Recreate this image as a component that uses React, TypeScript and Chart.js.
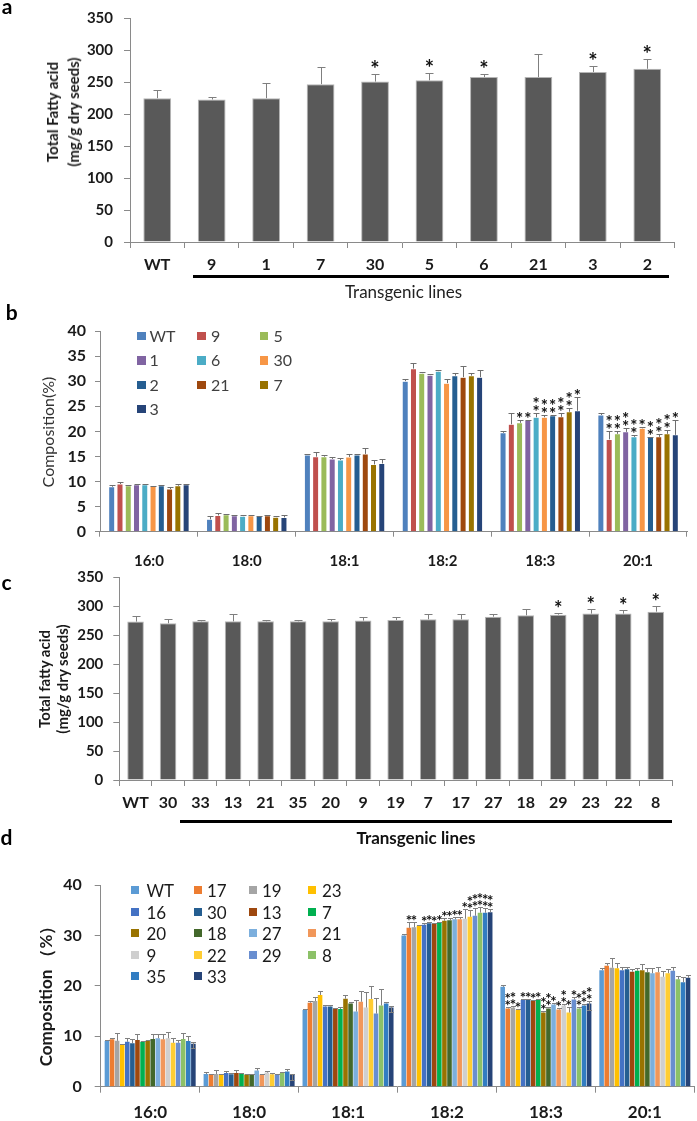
import React, { useEffect, useRef } from 'react';
import { Chart, registerables } from 'chart.js';

Chart.register(...registerables);

const FONT = 'Lato, "Open Sans", sans-serif';

// ---------- Panel a ----------
const linesA = ['WT', '9', '1', '7', '30', '5', '6', '21', '3', '2'];
const totalA = [225, 223, 225, 247, 251, 253, 258, 258, 266, 271];
const sdA = [13, 3.5, 23, 27, 11.5, 11, 4.5, 36, 9, 16];
const starsA = [0, 0, 0, 0, 1, 1, 1, 0, 1, 1];

// ---------- Panel b ----------
const acids = ['16:0', '18:0', '18:1', '18:2', '18:3', '20:1'];
const linesB = ['WT', '9', '5', '1', '6', '30', '2', '21', '7', '3'];
const colorsB = ['#4F81BD', '#C0504D', '#9BBB59', '#8064A2', '#4BACC6', '#F79646', '#255E91', '#9E480E', '#997300', '#264478'];
const b160 = [8.96, 9.5, 9.16, 9.36, 9.36, 9.1, 9.16, 8.5, 9.16, 9.36];
const b180 = [2.46, 3.25, 3.4, 3.2, 3.1, 3.2, 3.05, 3.2, 2.9, 2.85];
const b181 = [15.3, 14.95, 14.95, 14.5, 14.3, 14.9, 15.3, 15.5, 13.4, 13.6];
const b182 = [30.0, 32.5, 31.6, 31.2, 32.0, 29.6, 31.1, 30.8, 31.1, 30.8];
const b183 = [19.7, 21.4, 21.7, 22.2, 22.8, 22.8, 23.1, 22.9, 23.9, 24.1];
const b201 = [23.25, 18.4, 19.5, 19.9, 18.9, 20.6, 18.8, 18.9, 19.5, 19.3];
const sb160 = [0.25, 0.45, 0.15, 0.2, 0.2, 0.1, 0.1, 0.4, 0.4, 0.2];
const sb180 = [0.6, 0.45, 0.1, 0.15, 0.15, 0.1, 0.1, 0.15, 0.15, 0.55];
const sb181 = [0.2, 0.95, 0.35, 0.3, 0.3, 0.6, 0.2, 1.1, 0.9, 0.8];
const sb182 = [0.4, 1.1, 0.2, 0.2, 0.2, 0.8, 0.5, 2.2, 0.5, 1.4];
const sb183 = [0.4, 2.2, 0.6, 0.1, 0.8, 0.5, 0.1, 0.8, 0.7, 2.7];
const sb201 = [0.35, 1.7, 0.6, 0.7, 0.4, 0.3, 0.15, 0.5, 0.8, 3.0];
const starB183 = [0, 0, 1, 1, 2, 2, 2, 2, 2, 1];
const starB201 = [0, 2, 2, 2, 2, 1, 2, 2, 2, 1];

// ---------- Panel c ----------
const linesC = ['WT', '30', '33', '13', '21', '35', '20', '9', '19', '7', '17', '27', '18', '29', '23', '22', '8'];
const totalC = [273.5, 270.6, 274, 274, 274, 274, 274, 275.2, 276.3, 277.5, 277.5, 282, 284.4, 285.5, 287.3, 287.3, 290.7];
const sdC = [10.5, 8, 2, 12, 1.8, 3, 4.6, 5.8, 5.7, 9.5, 9.5, 5, 10.4, 2.4, 7.5, 5.7, 10.3];
const starsC = [0, 0, 0, 0, 0, 0, 0, 0, 0, 0, 0, 0, 0, 1, 1, 1, 1];

// ---------- Panel d ----------
const linesD = ['WT', '17', '19', '23', '16', '30', '13', '7', '20', '18', '27', '21', '9', '22', '29', '8', '35', '33'];
const colorsD = ['#5B9BD5', '#ED7D31', '#A5A5A5', '#FFC000', '#4472C4', '#255E91', '#9E480E', '#00B050', '#997300', '#43682B', '#7CAFDD', '#F1975A', '#CFCFCF', '#FFCD33', '#698ED0', '#8CC168', '#327DC2', '#264478'];
const d160 = [9.06, 9.4, 9.1, 8.3, 8.9, 8.6, 9.25, 8.9, 9.1, 9.45, 9.6, 9.4, 9.6, 8.7, 8.7, 9.45, 9.06, 8.5];
const d180 = [2.5, 2.5, 2.5, 2.5, 2.7, 2.45, 2.7, 2.6, 2.4, 2.45, 3.2, 2.4, 2.8, 2.45, 2.4, 2.7, 3.0, 2.5];
const d181 = [15.2, 16.65, 17.0, 18.2, 15.9, 15.9, 15.5, 15.4, 17.45, 16.5, 14.9, 16.85, 15.7, 17.4, 14.5, 16.1, 16.5, 15.7];
const d182 = [30.0, 31.5, 31.6, 31.9, 32.1, 32.4, 32.4, 32.5, 32.9, 33.0, 33.2, 33.2, 33.3, 33.7, 33.9, 34.5, 34.5, 34.6];
const d183 = [19.8, 15.5, 15.7, 15.2, 17.2, 17.2, 17.0, 17.2, 14.7, 15.5, 16.3, 15.3, 16.1, 14.7, 17.3, 15.5, 16.1, 16.5];
const d201 = [23.1, 24.0, 23.6, 23.5, 23.1, 23.3, 22.8, 23.0, 23.1, 22.7, 22.5, 22.7, 21.8, 22.5, 23.0, 21.3, 20.7, 21.6];
const sd160 = [0.2, 0.3, 1.5, 0.1, 0.7, 0.8, 1.25, 0.2, 0.2, 0.95, 0.8, 1.0, 1.2, 0.9, 0.55, 1.25, 0.95, 0.4];
const sd180 = [0.5, 0.1, 0.9, 0.1, 0.35, 0.35, 0.7, 0.1, 0.1, 0.15, 0.5, 0.1, 0.4, 0.35, 0.1, 0.2, 0.6, 0.1];
const sd181 = [0.3, 0.25, 0.7, 0.8, 0.3, 0.3, 0.2, 0.5, 0.75, 0.2, 2.3, 2.15, 3.0, 2.6, 3.1, 3.3, 0.2, 0.4];
const sd182 = [0.3, 1.2, 1.1, 0.2, 0.4, 0.3, 0.1, 0.2, 0.5, 0.4, 0.5, 0.5, 1.9, 1.3, 1.5, 1.1, 0.9, 0.6];
const sd183 = [0.3, 0.4, 0.3, 0.2, 0.2, 0.2, 0.2, 0.1, 0.4, 0.4, 0.2, 0.4, 0.3, 1.2, 0.4, 0.4, 0.3, 0.4];
const sd201 = [0.4, 0.6, 2.0, 1.0, 0.7, 0.5, 0.5, 0.5, 1.2, 0.9, 1.0, 1.1, 1.1, 0.8, 0.8, 0.7, 1.1, 0.5];
const lowD33 = [0.9, 1.1, 0.9, 0, 1.3, 0];
const starD182 = [0, 1, 1, 0, 1, 1, 1, 1, 1, 1, 1, 1, 1, 2, 2, 2, 2, 2];
const starD183 = [0, 2, 2, 1, 1, 1, 1, 1, 2, 2, 1, 1, 2, 1, 1, 2, 2, 2];

// ---------- error bar + asterisk plugin ----------
const errStars = {
  id: 'errStars',
  afterDatasetsDraw(chart: any, _a: any, o: any) {
    const ctx = chart.ctx;
    const ys = chart.scales.y;
    chart.data.datasets.forEach((ds: any, di: number) => {
      const meta = chart.getDatasetMeta(di);
      meta.data.forEach((bar: any, i: number) => {
        const v = ds.data[i];
        const e = (o.err[di] && o.err[di][i]) || 0;
        const lo = (o.low && o.low[di] && o.low[di][i]) || 0;
        const x = Math.round(bar.x) + 0.5;
        const yBar = ys.getPixelForValue(v);
        const yTop = Math.round(ys.getPixelForValue(v + e)) + 0.5;
        const c = o.cap / 2;
        ctx.save();
        ctx.strokeStyle = o.color;
        ctx.lineWidth = 1;
        ctx.beginPath();
        ctx.moveTo(x, yBar);
        ctx.lineTo(x, yTop);
        ctx.moveTo(x - c, yTop);
        ctx.lineTo(x + c, yTop);
        if (lo) {
          const yLo = Math.round(ys.getPixelForValue(v - lo)) + 0.5;
          ctx.moveTo(x, yBar);
          ctx.lineTo(x, yLo);
          ctx.moveTo(x - c, yLo);
          ctx.lineTo(x + c, yLo);
        }
        ctx.stroke();
        const n = (o.stars[di] && o.stars[di][i]) || 0;
        ctx.fillStyle = '#111';
        ctx.font = o.starFont;
        ctx.textAlign = 'center';
        ctx.textBaseline = 'alphabetic';
        for (let k = 0; k < n; k++) {
          ctx.fillText('*', bar.x, yTop + o.starOffset - k * o.starStep);
        }
        ctx.restore();
      });
    });
  },
};

function axes(opt: any) {
  const grid = (tl: number) => ({
    display: true,
    drawOnChartArea: false,
    drawTicks: true,
    tickLength: tl,
    color: '#8a8a8a',
  });
  return {
    x: {
      grid: grid(opt.xTick),
      border: { display: true, color: '#8a8a8a', width: 1 },
      ticks: {
        autoSkip: false,
        maxRotation: 0,
        padding: opt.xPad,
        color: '#1a1a1a',
        font: { family: FONT, size: opt.xSize, weight: 'bold' },
      },
      afterFit: (s: any) => {
        s.height = opt.H;
        s.paddingLeft = 0;
        s.paddingRight = 0;
      },
    },
    y: {
      min: 0,
      max: opt.max,
      grid: grid(opt.yTick),
      border: { display: true, color: '#8a8a8a', width: 1 },
      ticks: {
        stepSize: opt.step,
        padding: opt.yPad,
        color: '#1a1a1a',
        font: { family: FONT, size: opt.ySize, weight: 'bold' },
      },
      afterFit: (s: any) => {
        s.width = opt.W;
        s.paddingTop = 0;
        s.paddingBottom = 0;
      },
    },
  };
}

function ChartCanvas({ top, height, build }: { top: number; height: number; build: () => any }) {
  const ref = useRef<HTMLCanvasElement | null>(null);
  useEffect(() => {
    if (!ref.current) return;
    const chart = new Chart(ref.current, build());
    let alive = true;
    if ((document as any).fonts && (document as any).fonts.ready) {
      (document as any).fonts.ready.then(() => {
        if (alive) chart.update();
      });
    }
    return () => {
      alive = false;
      chart.destroy();
    };
  }, []);
  return (
    <canvas
      ref={ref}
      width={697}
      height={height}
      style={{ position: 'absolute', left: 0, top, width: 697, height }}
    />
  );
}

const baseOpts = (padding: any, scales: any, es: any) => ({
  responsive: false,
  animation: false,
  events: [],
  layout: { padding },
  plugins: { legend: { display: false }, tooltip: { enabled: false }, errStars: es },
  scales,
});

const buildA = () => ({
  type: 'bar',
  data: {
    labels: linesA,
    datasets: [{ data: totalA, backgroundColor: '#595959', borderColor: '#b5b5b5', borderWidth: 1, barPercentage: 0.51, categoryPercentage: 1 }],
  },
  options: baseOpts(
    { left: 0, top: 18.3, right: 22.5, bottom: 0 },
    axes({ W: 130, H: 43, max: 350, step: 50, xTick: 6, yTick: 6, xPad: 7.4, yPad: 11, xSize: 16, ySize: 15 }),
    { err: [sdA], stars: [starsA], cap: 8, color: '#7f7f7f', starFont: `bold 22px ${FONT}`, starOffset: 2, starStep: 10 }
  ),
  plugins: [errStars],
});

const buildB = () => ({
  type: 'bar',
  data: {
    labels: acids,
    datasets: linesB.map((name, li) => ({
      label: name,
      data: [b160[li], b180[li], b181[li], b182[li], b183[li], b201[li]],
      backgroundColor: colorsB[li],
      borderColor: 'rgba(255,255,255,0.35)',
      borderWidth: 0.5,
      barPercentage: 0.73,
      categoryPercentage: 0.845,
    })),
  },
  options: baseOpts(
    { left: 0, top: 41, right: 10, bottom: 0 },
    axes({ W: 100, H: 43.3, max: 40, step: 5, xTick: 5, yTick: 5, xPad: 15.3, yPad: 9, xSize: 15, ySize: 16 }),
    {
      err: linesB.map((_, li) => [sb160[li], sb180[li], sb181[li], sb182[li], sb183[li], sb201[li]]),
      stars: linesB.map((_, li) => [0, 0, 0, 0, starB183[li], starB201[li]]),
      cap: 6,
      color: '#6f6f6f',
      starFont: `bold 17px ${FONT}`,
      starOffset: 4.5,
      starStep: 8.3,
    }
  ),
  plugins: [errStars],
});

const buildC = () => ({
  type: 'bar',
  data: {
    labels: linesC,
    datasets: [{ data: totalC, backgroundColor: '#595959', borderColor: '#b5b5b5', borderWidth: 1, barPercentage: 0.51, categoryPercentage: 1 }],
  },
  options: baseOpts(
    { left: 0, top: 17.3, right: 25, bottom: 0 },
    axes({ W: 119.3, H: 42, max: 350, step: 50, xTick: 6, yTick: 6, xPad: 7.4, yPad: 10, xSize: 16, ySize: 15 }),
    { err: [sdC], stars: [starsC], cap: 8, color: '#7f7f7f', starFont: `bold 20px ${FONT}`, starOffset: 2.5, starStep: 10 }
  ),
  plugins: [errStars],
});

const buildD = () => ({
  type: 'bar',
  data: {
    labels: acids,
    datasets: linesD.map((name, li) => ({
      label: name,
      data: [d160[li], d180[li], d181[li], d182[li], d183[li], d201[li]],
      backgroundColor: colorsD[li],
      barPercentage: 0.9,
      categoryPercentage: 0.925,
    })),
  },
  options: baseOpts(
    { left: 0, top: 15, right: 2.7, bottom: 0 },
    axes({ W: 100.7, H: 34.3, max: 40, step: 10, xTick: 6, yTick: 6, xPad: 10, yPad: 13, xSize: 17, ySize: 16 }),
    {
      err: linesD.map((_, li) => [sd160[li], sd180[li], sd181[li], sd182[li], sd183[li], sd201[li]]),
      low: linesD.map((n) => (n === '33' ? lowD33 : [])),
      stars: linesD.map((_, li) => [0, 0, 0, starD182[li], starD183[li], 0]),
      cap: 5,
      color: '#808080',
      starFont: `bold 15px ${FONT}`,
      starOffset: 3,
      starStep: 7,
    }
  ),
  plugins: [errStars],
});

function Txt({ x, y, size, weight = 'normal', color = '#1a1a1a', rotate = false, children, lh }: any) {
  return (
    <div
      style={{
        position: 'absolute',
        left: x,
        top: y,
        transform: `translate(-50%, -50%)${rotate ? ' rotate(-90deg)' : ''}`,
        fontFamily: FONT,
        fontSize: size,
        fontWeight: weight,
        color,
        lineHeight: lh ? `${lh}px` : 1,
        whiteSpace: 'nowrap',
        textAlign: 'center',
      }}
    >
      {children}
    </div>
  );
}

function Legend({ names, colors, swatchX, textX, rowY, rowStep, cols, size, color, sw }: any) {
  return (
    <>
      {names.map((n: string, i: number) => {
        const c = i % cols;
        const r = Math.floor(i / cols);
        const cy = rowY + r * rowStep;
        return (
          <React.Fragment key={n}>
            <div
              style={{ position: 'absolute', left: swatchX[c], top: cy - sw / 2, width: sw, height: sw, background: colors[i] }}
            />
            <div
              style={{
                position: 'absolute',
                left: textX[c],
                top: cy,
                transform: 'translateY(-50%)',
                fontFamily: FONT,
                fontSize: size,
                lineHeight: 1,
                color,
                whiteSpace: 'nowrap',
              }}
            >
              {n}
            </div>
          </React.Fragment>
        );
      })}
    </>
  );
}

export default function App() {
  return (
    <div style={{ position: 'absolute', left: 0, top: 0, width: 697, height: 1121, background: '#fff', overflow: 'hidden' }}>
      <ChartCanvas top={0} height={285} build={buildA} />
      <ChartCanvas top={290} height={285} build={buildB} />
      <ChartCanvas top={560} height={262} build={buildC} />
      <ChartCanvas top={870} height={251} build={buildD} />

      {/* panel letters */}
      <Txt x={7} y={5} size={21} weight="bold" color="#000">a</Txt>
      <Txt x={11.7} y={310.5} size={21} weight="bold" color="#000">b</Txt>
      <Txt x={6.5} y={581} size={21} weight="bold" color="#000">c</Txt>
      <Txt x={6.5} y={835.5} size={21} weight="bold" color="#000">d</Txt>

      {/* axis titles */}
      <Txt x={62.5} y={112} size={15} weight="bold" rotate lh={21}>
        Total Fatty acid<br />(mg/g dry seeds)
      </Txt>
      <Txt x={48.3} y={432} size={16} color="#333" rotate>Composition(%)</Txt>
      <Txt x={53.4} y={678.5} size={15} weight="bold" rotate lh={18}>
        Total fatty acid<br />(mg/g dry seeds)
      </Txt>
      <Txt x={45} y={992} size={17} weight="bold" rotate>Composition （%）</Txt>

      {/* transgenic line brackets */}
      <div style={{ position: 'absolute', left: 193, top: 275, width: 476, height: 3, background: '#000' }} />
      <Txt x={403.5} y={291} size={17} color="#222">Transgenic lines</Txt>
      <div style={{ position: 'absolute', left: 180, top: 819.5, width: 492, height: 3, background: '#000' }} />
      <Txt x={416} y={837} size={17} weight="bold" color="#111">Transgenic lines</Txt>

      {/* legends */}
      <Legend
        names={linesB}
        colors={colorsB}
        cols={3}
        swatchX={[137, 197, 259.5]}
        textX={[149.5, 211, 273.5]}
        rowY={336}
        rowStep={24.4}
        size={16}
        color="#404040"
        sw={8.5}
      />
      <Legend
        names={linesD}
        colors={colorsD}
        cols={4}
        swatchX={[130.5, 194, 248.5, 307.5]}
        textX={[146.5, 207, 262, 322]}
        rowY={890}
        rowStep={21.5}
        size={17}
        color="#1a1a1a"
        sw={8}
      />
    </div>
  );
}
